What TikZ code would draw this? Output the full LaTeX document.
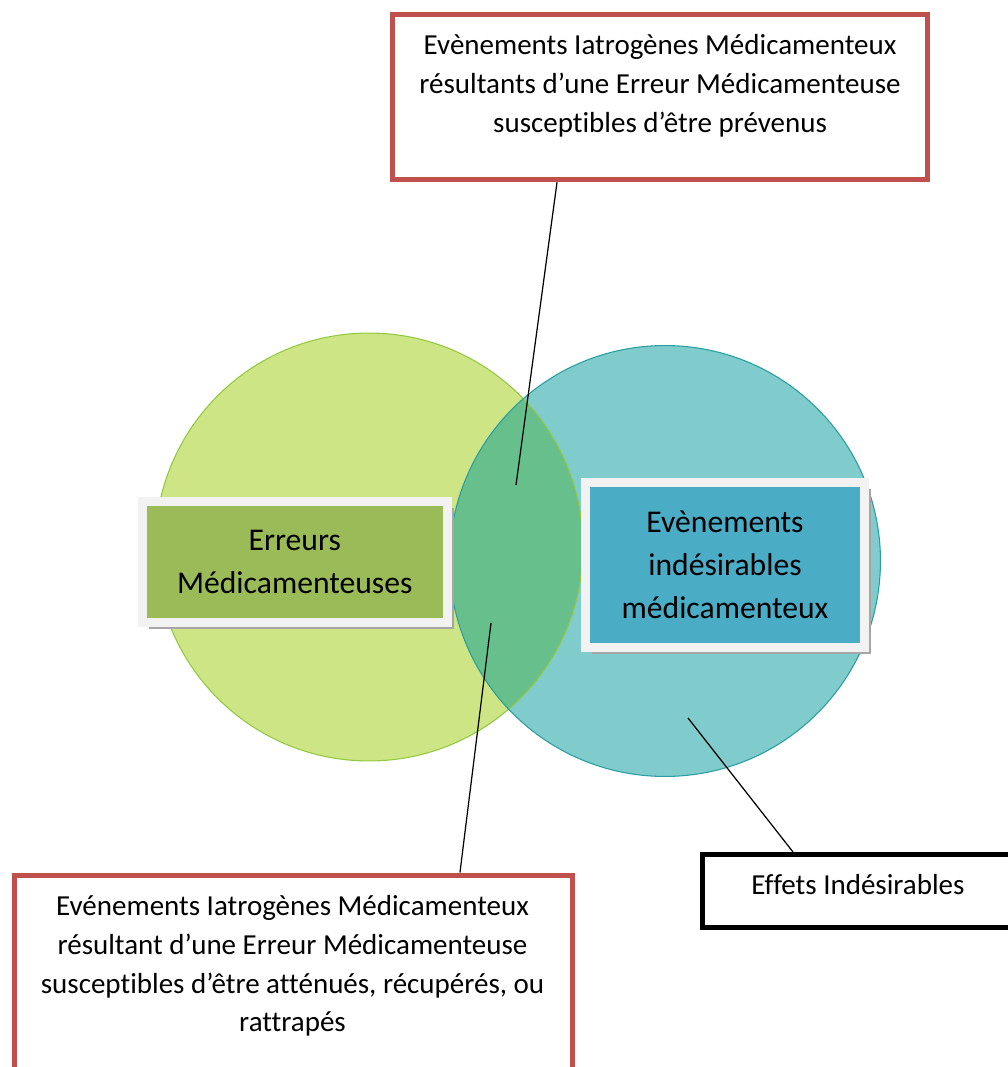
\documentclass[tikz,border=0pt]{standalone}
\usepackage{fontspec}
\setmainfont{Carlito}[Ligatures={NoCommon}]
\usetikzlibrary{shadows}
\definecolor{emgreen}{RGB}{205,229,132}
\definecolor{emgreenedge}{RGB}{146,200,62}
\definecolor{eimteal}{RGB}{128,203,204}
\definecolor{eimtealedge}{RGB}{40,158,160}
\definecolor{overlapcolor}{RGB}{103,191,140}
\definecolor{boxgreen}{RGB}{155,187,89}
\definecolor{boxblue}{RGB}{75,172,198}
\definecolor{framegray}{RGB}{242,242,242}
\definecolor{redframe}{RGB}{192,80,77}
\tikzset{
  redbox/.style   = {draw=redframe, line width=0.11cm, fill=white, inner sep=0pt},
  blackbox/.style = {draw=black, line width=0.1cm, fill=white, inner sep=0pt},
  catbox/.style   = {draw=framegray, line width=0.18cm, inner sep=0pt, align=center,
                     font=\fontsize{18}{24.4}\selectfont,
                     drop shadow={shadow xshift=0.13cm, shadow yshift=-0.13cm,
                                  fill=gray!70, opacity=1}},
  txt/.style      = {align=center, font=\fontsize{16.5}{22.1}\selectfont, inner sep=0pt},
  leader/.style   = {draw=black, line width=0.7pt},
}

\begin{document}
\begin{tikzpicture}[x=0.02cm, y=-0.02cm]
  \useasboundingbox (0,0) rectangle (1007,1067);
  % the two sets
  \fill[emgreen] (369,547) circle[radius=4.28cm];
  \fill[eimteal] (665,561) circle[radius=4.31cm];
  \begin{scope}
    \clip (665,561) circle[radius=4.31cm];
    \fill[overlapcolor] (369,547) circle[radius=4.28cm];
  \end{scope}
  \draw[emgreenedge, line width=0.6pt] (369,547) circle[radius=4.28cm];
  \draw[eimtealedge, line width=0.6pt] (665,561) circle[radius=4.31cm];
  % set labels
  \node[catbox, fill=boxgreen, minimum width=6.11cm, minimum height=2.41cm]
    (erreurs) at (294.75,562) {Erreurs\\Médicamenteuses};
  \node[catbox, fill=boxblue, minimum width=5.6cm, minimum height=3.3cm]
    (eim) at (725,565) {Evènements\\indésirables\\médicamenteux};
  % callouts
  \node[redbox, minimum width=10.7cm, minimum height=3.3cm] (prevenus) at (660,97) {};
  \node[txt] (prevenustxt) at (660,86)
    {Evènements Iatrogènes Médicamenteux\\résultants d’une Erreur Médicamenteuse\\susceptibles d’être prévenus};
  \node[redbox, minimum width=11.16cm, minimum height=4.5cm, anchor=north] (attenues) at (293.5,872.5) {};
  \node[txt] (attenuestxt) at (292.5,966)
    {Evénements Iatrogènes Médicamenteux\\résultant d’une Erreur Médicamenteuse\\susceptibles d’être atténués, récupérés, ou\\rattrapés};
  \node[blackbox, minimum width=6.75cm, minimum height=1.46cm] (effets) at (871.25,891) {};
  \node[txt] (effetstxt) at (858,885) {Effets Indésirables};
  % leaders
  \coordinate (pinhaut) at (516,485);
  \coordinate (pinbas) at (491,623);
  \coordinate (pinei) at (688,718);
  \draw[leader] (pinhaut) -- ([xshift=-2.06cm]prevenus.south);
  \draw[leader] (pinbas) -- ([xshift=3.33cm]attenues.north);
  \draw[leader] (pinei) -- ([xshift=-1.565cm]effets.north);
\end{tikzpicture}
\end{document}
